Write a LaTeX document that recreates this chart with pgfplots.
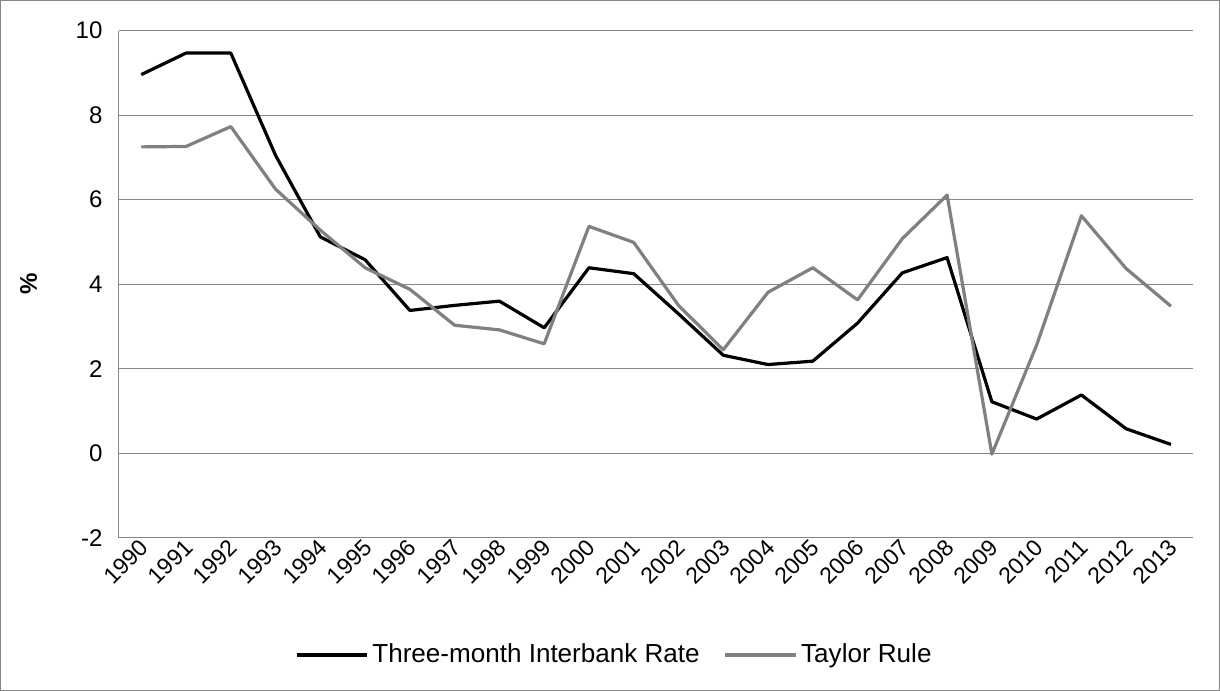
\documentclass[border=0pt]{standalone}
\usepackage{fontspec}
\setmainfont{Liberation Sans}
\usepackage{pgfplots}
\pgfplotsset{compat=1.18}
\definecolor{taylorgray}{RGB}{128,128,128}
\definecolor{gridgray}{RGB}{134,134,134}
\definecolor{framegray}{RGB}{134,134,134}
\begin{document}
\begin{tikzpicture}
\fontsize{12}{14}\selectfont
\begin{axis}[
    scale only axis,
    width=536pt, height=253pt,
    xmin=1989.5, xmax=2013.5,
    ymin=-2, ymax=10,
    xtick={1990,...,2013},
    ytick={-2,0,...,10},
    /pgf/number format/assume math mode=true,
    x tick label style={/pgf/number format/1000 sep={}, rotate=45, anchor=east, xshift=3pt, yshift=-3pt,
        font=\fontsize{11.5}{13}\selectfont},
    yticklabel style={xshift=-4pt},
    major tick length=0pt,
    ymajorgrids,
    grid style={gridgray, line width=0.6pt},
    axis x line*=bottom,
    axis y line*=left,
    axis line style={gridgray, line width=0.6pt},
    ylabel={\textbf{\%}},
    every axis y label/.style={at={(axis description cs:-0.084,0.5)}, anchor=center, rotate=90},
    legend columns=2,
    legend style={at={(0.462,-0.231)}, anchor=center, draw=none, fill=none,
        font=\fontsize{13}{15}\selectfont,
        /tikz/every even column/.append style={column sep=10pt}},
    legend image code/.code={\draw[#1] (0pt,0pt) -- (35pt,0pt);},
    font=\fontsize{12}{14}\selectfont,
]
\addplot[black, line width=1.6pt, line join=round] coordinates {
(1990,8.96) (1991,9.47) (1992,9.47) (1993,7.05) (1994,5.12) (1995,4.58)
(1996,3.38) (1997,3.50) (1998,3.60) (1999,2.97) (2000,4.39) (2001,4.25)
(2002,3.30) (2003,2.32) (2004,2.10) (2005,2.18) (2006,3.08) (2007,4.27)
(2008,4.63) (2009,1.22) (2010,0.81) (2011,1.38) (2012,0.58) (2013,0.21)
};
\addlegendentry{Three-month Interbank Rate}
\addplot[taylorgray, line width=1.6pt, line join=round] coordinates {
(1990,7.25) (1991,7.26) (1992,7.73) (1993,6.25) (1994,5.28) (1995,4.39)
(1996,3.88) (1997,3.03) (1998,2.92) (1999,2.59) (2000,5.37) (2001,4.99)
(2002,3.50) (2003,2.45) (2004,3.81) (2005,4.39) (2006,3.63) (2007,5.08)
(2008,6.11) (2009,-0.02) (2010,2.56) (2011,5.62) (2012,4.37) (2013,3.48)
};
\addlegendentry{Taylor Rule}
\end{axis}
\draw[framegray, line width=0.6pt] (-59pt,-76pt) rectangle (549pt,268pt);
\end{tikzpicture}
\end{document}
